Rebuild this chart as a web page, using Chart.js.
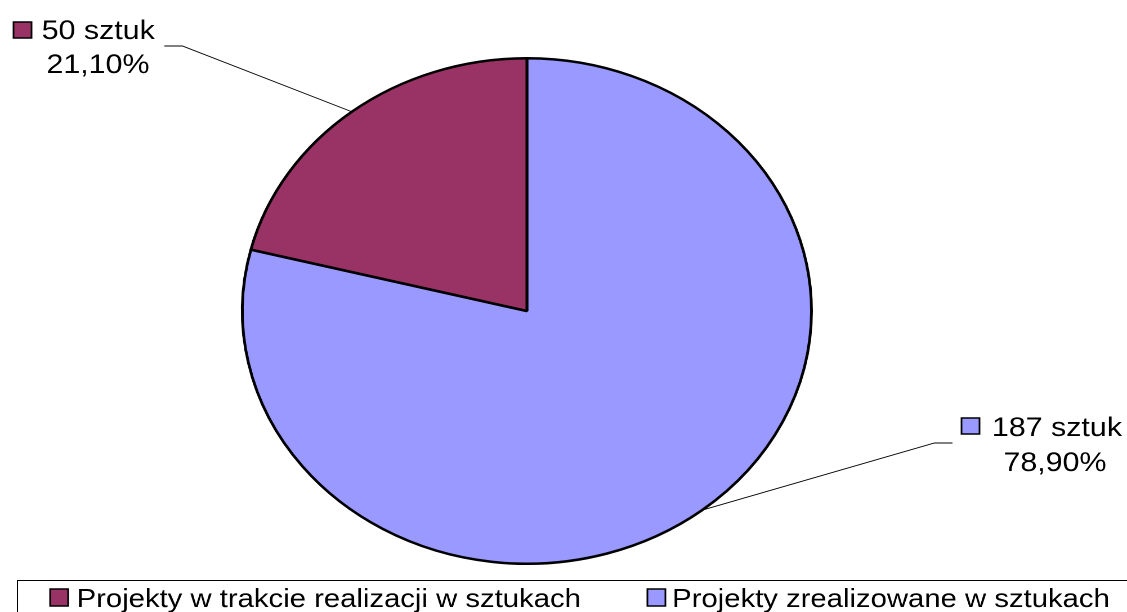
<!DOCTYPE html>
<html>
<head>
<meta charset="utf-8">
<script src="https://cdn.jsdelivr.net/npm/chart.js@4"></script>
<style>
  html, body { margin: 0; padding: 0; background: #fff; overflow: hidden; }
  /* the original picture is stretched sideways, so the pie is an ellipse */
  #chart { transform: scaleX(1.12587); transform-origin: 0 0; display: block; }
</style>
</head>
<body>
<canvas id="chart" width="1001" height="612"></canvas>
<script>
const categories = ["Projekty zrealizowane w sztukach", "Projekty w trakcie realizacji w sztukach"];
const values = [187, 50];
const unit = "sztuk";
const colors = ["#9999FF", "#993366"];
const legendOrder = [1, 0];

const FONT = "'Liberation Sans', Arial, sans-serif";

// where each slice's callout sits (internal, unstretched pixels)
const callouts = [
  { box: [854, 418], textX: 881, centerX: 937, base: [436, 471], elbow: [[846, 443], [830, 443]] },
  { box: [12, 22], textX: 37, centerX: 87, base: [39, 73], elbow: [[146, 46], [162, 46]] }
];
const legendItems = [
  { box: [44.5, 589], textX: 68 },
  { box: [575, 589], textX: 597 }
];

const total = values.reduce((a, b) => a + b, 0);

const drawExtras = {
  id: "drawExtras",
  afterDraw(chart) {
    const ctx = chart.ctx;
    const meta = chart.getDatasetMeta(0);
    ctx.save();
    ctx.textBaseline = "alphabetic";

    meta.data.forEach((arc, i) => {
      const p = arc.getProps(["x", "y", "startAngle", "endAngle", "outerRadius"], true);
      const mid = (p.startAngle + p.endAngle) / 2;
      const ax = p.x + Math.cos(mid) * p.outerRadius;
      const ay = p.y + Math.sin(mid) * p.outerRadius;
      const c = callouts[i];

      // leader line
      ctx.strokeStyle = "#000";
      ctx.lineWidth = 0.9;
      ctx.beginPath();
      ctx.moveTo(c.elbow[0][0], c.elbow[0][1]);
      ctx.lineTo(c.elbow[1][0], c.elbow[1][1]);
      ctx.lineTo(ax, ay);
      ctx.stroke();

      // key square
      ctx.fillStyle = colors[i];
      ctx.fillRect(c.box[0], c.box[1], 16, 16);
      ctx.lineWidth = 1.5;
      ctx.strokeRect(c.box[0], c.box[1], 16, 16);

      // text
      const pct = (values[i] / total * 100).toFixed(2).replace(".", ",") + "%";
      ctx.fillStyle = "#000";
      ctx.font = "27px " + FONT;
      ctx.textAlign = "left";
      ctx.fillText(values[i] + " " + unit, c.textX, c.base[0]);
      ctx.textAlign = "center";
      ctx.fillText(pct, c.centerX, c.base[1]);
    });

    // legend frame
    ctx.strokeStyle = "#000";
    ctx.lineWidth = 1;
    ctx.strokeRect(15.5, 580.5, 1200, 100);

    ctx.font = "26px " + FONT;
    ctx.textAlign = "left";
    legendOrder.forEach((idx, k) => {
      const it = legendItems[k];
      ctx.fillStyle = colors[idx];
      ctx.fillRect(it.box[0], it.box[1], 16, 17);
      ctx.lineWidth = 1.5;
      ctx.strokeRect(it.box[0], it.box[1], 16, 17);
      ctx.fillStyle = "#000";
      ctx.fillText(categories[idx], it.textX, 607);
    });
    ctx.restore();
  }
};

new Chart(document.getElementById("chart"), {
  type: "pie",
  data: {
    labels: categories,
    datasets: [{
      data: values,
      backgroundColor: colors,
      borderColor: "#000",
      borderWidth: 2.5,
      borderAlign: "center",
      hoverOffset: 0
    }]
  },
  options: {
    responsive: false,
    devicePixelRatio: 2,
    animation: false,
    rotation: 0,
    layout: { padding: { left: 214, right: 279, top: 57, bottom: 47 } },
    plugins: {
      legend: { display: false },
      tooltip: { enabled: false }
    }
  },
  plugins: [drawExtras]
});
</script>
</body>
</html>
